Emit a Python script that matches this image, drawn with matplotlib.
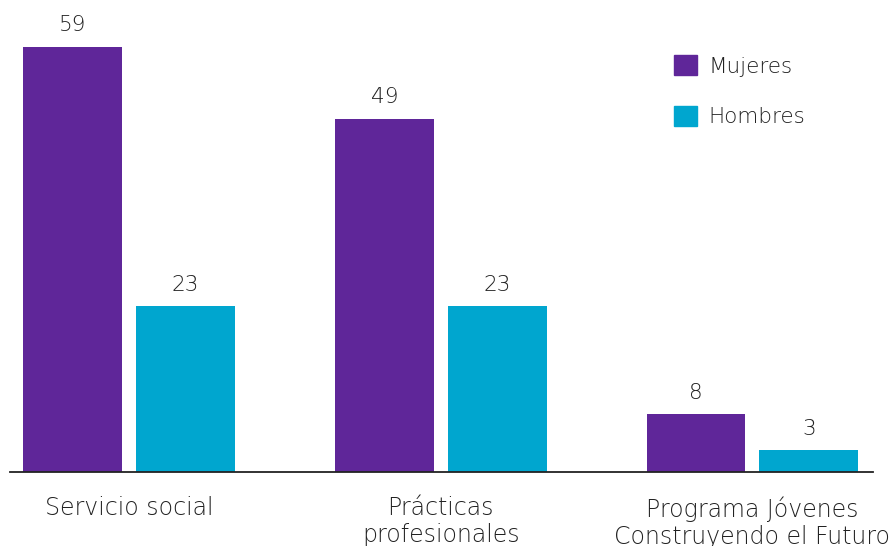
import matplotlib.pyplot as plt
import numpy as np
from matplotlib.patches import Patch

categories = ["Servicio social", "Prácticas\nprofesionales", "Programa Jóvenes\nConstruyendo el Futuro"]
mujeres = [59, 49, 8]
hombres = [23, 23, 3]
series_names = ["Mujeres", "Hombres"]

purple = "#5f2699"
cyan = "#00a6cf"
text_col = "#222222"

plt.rcParams['font.family'] = ['DejaVu Sans']
plt.rcParams['font.weight'] = 'light'

fig = plt.figure(figsize=(8.96, 5.46), dpi=100)
# axes placed in pixel terms: baseline at y=472, spans x 10..873
ax = fig.add_axes([10 / 896, 74 / 546, 863 / 896, 468 / 546])

x = np.arange(len(categories))
w = 0.317
off = 0.181
b1 = ax.bar(x - off, mujeres, w, color=purple)
b2 = ax.bar(x + off, hombres, w, color=cyan)

for bars in (b1, b2):
    for r in bars:
        ax.annotate(f"{int(r.get_height())}", (r.get_x() + r.get_width() / 2, r.get_height()),
                    xytext=(0, 8.5), textcoords="offset points", ha="center", va="bottom",
                    fontsize=15.5, color=text_col)

ax.set_xlim(-0.382, 2.387)
ax.set_ylim(0, 65)

ax.set_xticks(x)
ax.set_xticklabels(categories, fontsize=17, color=text_col, linespacing=1.15)
ax.tick_params(axis="x", length=0, pad=17.5)
ax.set_yticks([])
for s in ["top", "right", "left"]:
    ax.spines[s].set_visible(False)
ax.spines["bottom"].set_color("#222222")
ax.spines["bottom"].set_linewidth(1.3)

handles = [Patch(color=purple), Patch(color=cyan)]
leg = ax.legend(handles, series_names, loc="upper left", bbox_to_anchor=(655 / 896, 1 - 36 / 546),
                bbox_transform=fig.transFigure, frameon=False, fontsize=15.5,
                handlelength=1.05, handleheight=1.05, handletextpad=0.55, labelspacing=1.35)
for t in leg.get_texts():
    t.set_color(text_col)

fig.savefig("out.png", dpi=100)
